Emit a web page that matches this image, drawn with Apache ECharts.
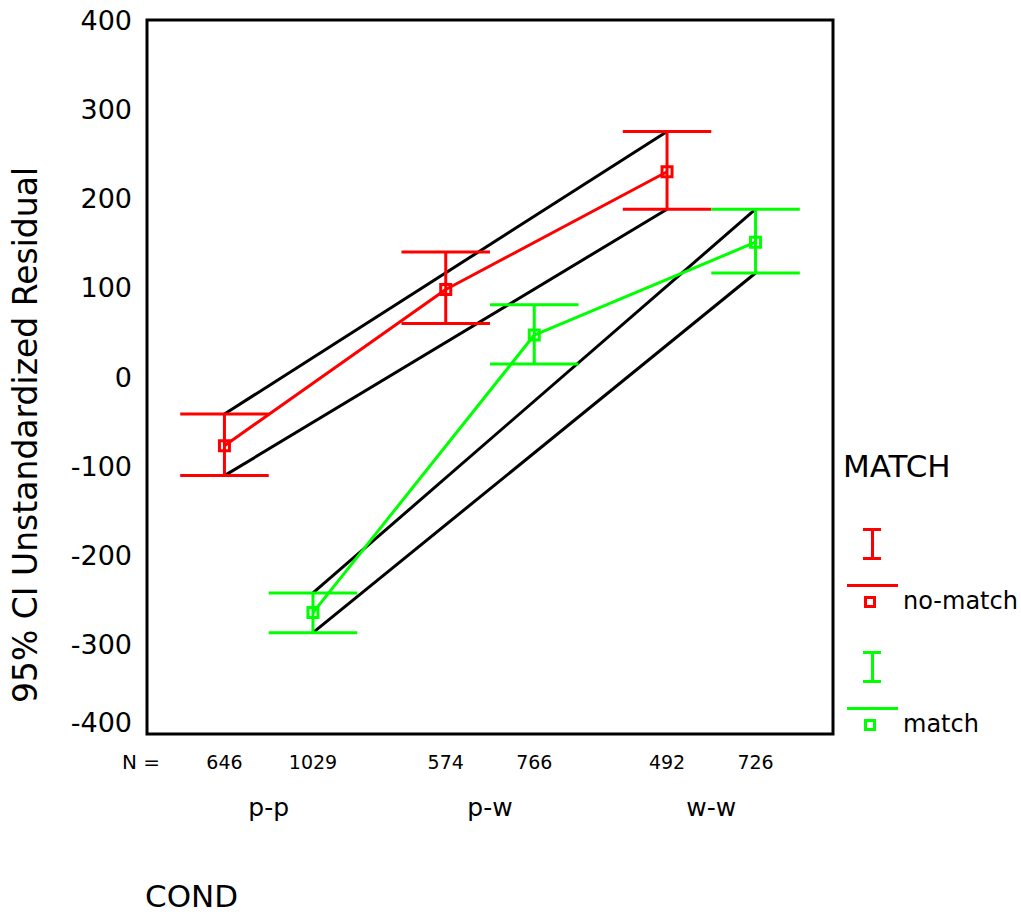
<!DOCTYPE html>
<html>
<head>
<meta charset="utf-8">
<title>95% CI Unstandardized Residual by COND and MATCH</title>
<script src="https://cdn.jsdelivr.net/npm/echarts@6/dist/echarts.min.js"></script>
<style>
  html, body { margin: 0; padding: 0; background: #fff; }
  #chart { width: 1021px; height: 917px; }
</style>
</head>
<body>
<div id="chart"></div>
<script>
// conditions on the x axis, each with a no-match and a match cell
const conds = ["p-p", "p-w", "w-w"];
const condPos = [1, 2, 3];
const noMatchPos = [0.8, 1.8, 2.8];
const matchPos = [1.2, 2.2, 3.2];
const noMatchN = [646, 574, 492];
const matchN = [1029, 766, 726];

// means and 95% CI bounds
const noMatchMean = [-77, 98, 230];
const noMatchLow = [-110.5, 60, 188];
const noMatchHigh = [-41.5, 140, 275];
const matchMean = [-264, 47, 151];
const matchLow = [-286.5, 14.5, 116.5];
const matchHigh = [-242, 81, 188];

const yTicks = [-400, -300, -200, -100, 0, 100, 200, 300, 400];

const RED = "#ff0000";
const GREEN = "#00ff00";
const FONT = "DejaVu Sans";
const capHalf = 0.2;

// legend glyph: I-bar, line and small square
const legendIcon =
  "path://M16 0L34 0L34 3L16 3Z M24 0L27 0L27 31L24 31Z M16 29L34 29L34 32L16 32Z " +
  "M0 56L51 56L51 59L0 59Z M17 68L29 68L29 80L17 80Z M20 71L20 77L26 77L26 71Z";

const nPos = noMatchPos.concat(matchPos);
const nLabels = noMatchN.concat(matchN);

function cells(pos, lo, hi, mean) {
  return pos.map((p, i) => [p, lo[i], hi[i], mean[i]]);
}

function errorBar(params, api) {
  const x = api.value(0);
  const lo = api.coord([x, api.value(1)]);
  const hi = api.coord([x, api.value(2)]);
  const mid = api.coord([x, api.value(3)]);
  const left = api.coord([x - capHalf, 0])[0];
  const right = api.coord([x + capHalf, 0])[0];
  const color = api.visual("color");
  const st = { stroke: color, lineWidth: 3, fill: null };
  return {
    type: "group",
    children: [
      { type: "line", shape: { x1: lo[0], y1: lo[1], x2: hi[0], y2: hi[1] }, style: st },
      { type: "line", shape: { x1: left, y1: lo[1], x2: right, y2: lo[1] }, style: st },
      { type: "line", shape: { x1: left, y1: hi[1], x2: right, y2: hi[1] }, style: st },
      { type: "rect", shape: { x: mid[0] - 5, y: mid[1] - 5, width: 10, height: 10 }, style: st }
    ]
  };
}

function blackLine(p1, p2) {
  return {
    type: "line",
    data: [p1, p2],
    symbol: "none",
    silent: true,
    lineStyle: { color: "#000", width: 3 },
    z: 1
  };
}

const chart = echarts.init(document.getElementById("chart"), null, { renderer: "svg" });

chart.setOption({
  animation: false,
  backgroundColor: "#fff",
  title: [
    {
      text: "MATCH", left: 843, top: 450, padding: 0,
      textStyle: { fontFamily: FONT, fontSize: 31, fontWeight: "normal", color: "#000" }
    },
    {
      text: "COND", left: 145, top: 880, padding: 0,
      textStyle: { fontFamily: FONT, fontSize: 31, fontWeight: "normal", color: "#000" }
    }
  ],
  legend: {
    orient: "vertical",
    left: 847,
    top: 528,
    padding: 0,
    itemWidth: 51,
    itemHeight: 80,
    itemGap: 38,
    selectedMode: false,
    formatter: name => "{t|" + name + "}",
    textStyle: {
      fontFamily: FONT, fontSize: 24, color: "#000",
      rich: { t: { fontFamily: FONT, fontSize: 24, color: "#000", padding: [66, 0, 0, 0] } }
    },
    data: [
      { name: "no-match", icon: legendIcon, itemStyle: { color: RED } },
      { name: "match", icon: legendIcon, itemStyle: { color: GREEN } }
    ]
  },
  graphic: [
    {
      type: "text", x: 141, y: 762,
      style: { text: "N =", font: "20px '" + FONT + "'", fill: "#000", align: "center", verticalAlign: "middle" }
    }
  ],
  grid: {
    left: 147, top: 20, width: 686, height: 714,
    outerBoundsMode: "none",
    containLabel: false,
    show: true, borderColor: "#000", borderWidth: 3, backgroundColor: "transparent"
  },
  xAxis: [
    {
      type: "value", min: 0.45, max: 3.55,
      axisLine: { show: false }, axisTick: { show: false }, splitLine: { show: false },
      axisLabel: {
        customValues: nPos,
        formatter: v => String(nLabels[nPos.indexOf(v)]),
        margin: 18,
        fontFamily: FONT, fontSize: 19, color: "#000"
      }
    },
    {
      type: "value", min: 0.45, max: 3.55, position: "bottom",
      axisLine: { show: false }, axisTick: { show: false }, splitLine: { show: false },
      axisLabel: {
        customValues: condPos,
        formatter: v => conds[condPos.indexOf(v)],
        margin: 61,
        fontFamily: FONT, fontSize: 25, color: "#000"
      }
    }
  ],
  yAxis: {
    type: "value",
    min: yTicks[0],
    max: yTicks[yTicks.length - 1],
    interval: 100,
    name: "95% CI Unstandardized Residual",
    nameLocation: "middle",
    nameGap: 105,
    nameTextStyle: { fontFamily: FONT, fontSize: 33, color: "#000", padding: [0, 116, 0, 0] },
    axisLine: { show: false }, axisTick: { show: false }, splitLine: { show: false },
    axisLabel: {
      margin: 15,
      fontFamily: FONT, fontSize: 27, color: "#000",
      formatter: v => (v === yTicks[0] ? "{low|" + v + "}" : String(v)),
      rich: { low: { fontFamily: FONT, fontSize: 27, color: "#000", padding: [0, 0, 24, 0] } }
    }
  },
  series: [
    blackLine([noMatchPos[0], noMatchHigh[0]], [noMatchPos[2], noMatchHigh[2]]),
    blackLine([noMatchPos[0], noMatchLow[0]], [noMatchPos[2], noMatchLow[2]]),
    blackLine([matchPos[0], matchHigh[0]], [matchPos[2], matchHigh[2]]),
    blackLine([matchPos[0], matchLow[0]], [matchPos[2], matchLow[2]]),
    {
      name: "no-match", type: "line", symbol: "none", silent: true, z: 2,
      data: noMatchPos.map((p, i) => [p, noMatchMean[i]]),
      itemStyle: { color: RED }, lineStyle: { color: RED, width: 3 }
    },
    {
      name: "match", type: "line", symbol: "none", silent: true, z: 2,
      data: matchPos.map((p, i) => [p, matchMean[i]]),
      itemStyle: { color: GREEN }, lineStyle: { color: GREEN, width: 3 }
    },
    {
      name: "no-match", type: "custom", renderItem: errorBar, z: 3,
      itemStyle: { color: RED },
      encode: { x: 0, y: [1, 2, 3] },
      data: cells(noMatchPos, noMatchLow, noMatchHigh, noMatchMean)
    },
    {
      name: "match", type: "custom", renderItem: errorBar, z: 3,
      itemStyle: { color: GREEN },
      encode: { x: 0, y: [1, 2, 3] },
      data: cells(matchPos, matchLow, matchHigh, matchMean)
    }
  ]
});
</script>
</body>
</html>
